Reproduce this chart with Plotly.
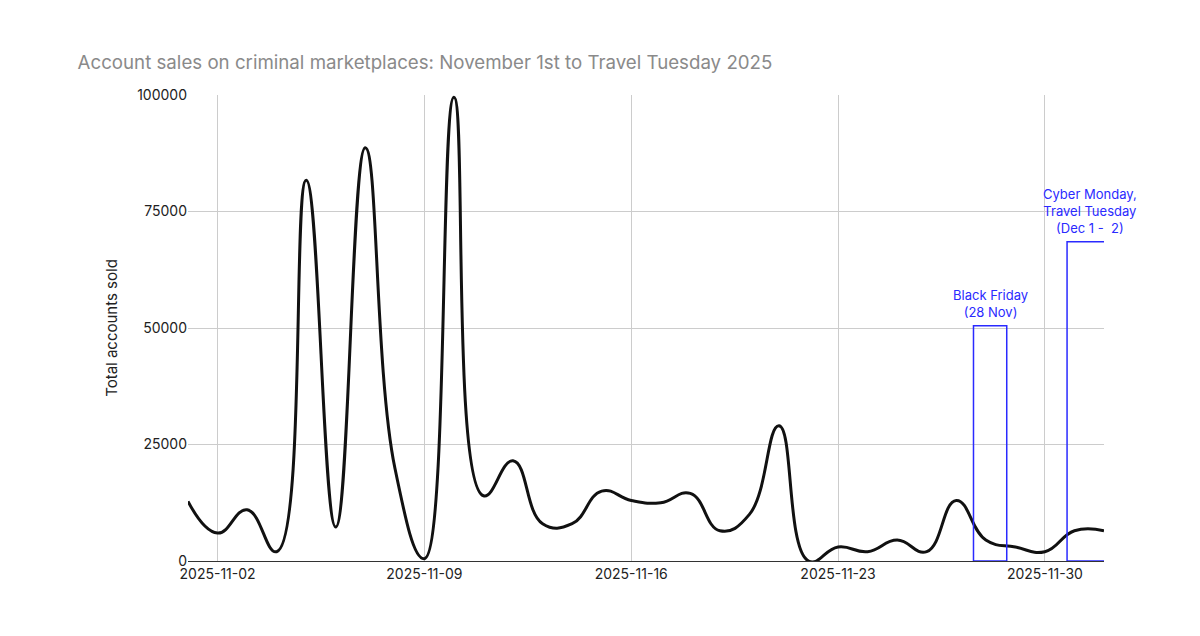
import plotly.graph_objects as go
import pandas as pd

dates = pd.date_range("2025-11-01", "2025-12-02").strftime("%Y-%m-%d").tolist()
sold = [12800, 6000, 11000, 2000, 81700, 7300, 88700, 20000, 500, 99500,
        14000, 21500, 8000, 8000, 15000, 13000, 12500, 14500, 6500, 10000,
        29000, 0, 3000, 2000, 4500, 2000, 13000, 4500, 3000, 2000, 6500, 6500]
boxes = [("2025-11-27 14:00", "2025-11-28 17:00", 50500, "Black Friday<br>(28 Nov)"),
         ("2025-11-30 18:00", "2025-12-02 07:00", 68500, "Cyber Monday,<br>Travel Tuesday<br>(Dec 1 -  2)")]

fig = go.Figure(go.Scatter(x=dates, y=sold, mode="lines",
                           line=dict(color="#111111", width=3, shape="spline", smoothing=1.3)))
for x0, x1, top, label in boxes:
    fig.add_shape(type="rect", x0=x0, x1=x1, y0=0, y1=top, xref="x", yref="y",
                  line=dict(color="#2a2aff", width=1.5))
    mid = pd.Timestamp(x0) + (pd.Timestamp(x1) - pd.Timestamp(x0)) / 2
    fig.add_annotation(x=mid, y=top, text=label, showarrow=False, yanchor="bottom",
                       yshift=4, font=dict(color="#2a2aff", size=13, family="Inter"))

fig.update_layout(
    width=1200, height=636, plot_bgcolor="white", paper_bgcolor="white",
    margin=dict(l=180, r=104, t=87, b=83), showlegend=False,
    title=dict(text="Account sales on criminal marketplaces: November 1st to Travel Tuesday 2025",
               x=0.058, y=0.925, xanchor="left", font=dict(size=18.7, color="#8a8a8a", family="Inter")),
    font=dict(family="Inter", size=14, color="#222"),
)
fig.update_xaxes(range=["2025-11-01", "2025-12-02"], tickvals=dates[1::7], ticktext=dates[1::7],
                 showgrid=True, gridcolor="#cccccc", showline=True, linecolor="#333", ticks="")
fig.update_yaxes(range=[0, 100000], tickvals=[0, 25000, 50000, 75000, 100000],
                 tickformat="d", showgrid=True, gridcolor="#cccccc", zeroline=False,
                 title=dict(text="Total accounts sold", font=dict(size=15)))
fig.write_html("out.html")
